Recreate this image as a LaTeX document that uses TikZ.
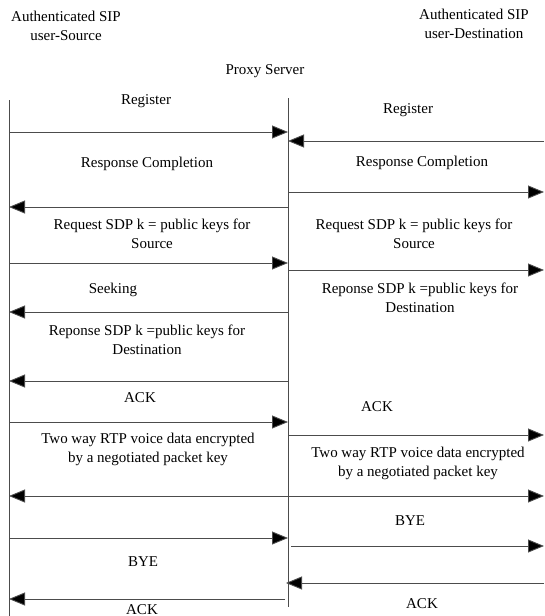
\documentclass[tikz,border=0pt]{standalone}
\usepackage{fontspec}
\setmainfont{Liberation Serif}
\usetikzlibrary{arrows.meta}
\begin{document}
\begin{tikzpicture}[x=1pt,y=-1pt,
  life/.style={draw=black!70,line width=0.9pt},
  tip/.tip={Triangle[length=16pt,width=13pt,fill=black]},
  msg/.style={draw=black!70,line width=0.9pt,-tip},
  dmsg/.style={draw=black!70,line width=0.9pt,tip-tip},
  lbl/.style={font=\fontsize{15}{19}\selectfont,align=center,inner sep=0pt}]
\useasboundingbox (0,0) rectangle (544,616);
% headers
\node[lbl] (src) at (66,26) {Authenticated SIP\\user-Source};
\node[lbl] (dst) at (474,24) {Authenticated SIP\\user-Destination};
\node[lbl] (prx) at (265,71) {Proxy Server};
% lifelines
\coordinate (Ltop) at (9,100);
\coordinate (Lbot) at (9,616);
\coordinate (Mtop) at (288,98);
\coordinate (Mbot) at (288,607);
\draw[life] (Ltop) -- (Lbot);
\draw[life] (Mtop) -- (Mbot);
% labels
\node[lbl] (t1) at (146,101) {Register};
\node[lbl] (t2) at (408,110) {Register};
\node[lbl] (t3) at (147,164) {Response Completion};
\node[lbl] (t4) at (422,163) {Response Completion};
\node[lbl] (t5) at (152,234) {Request SDP k = public keys for\\Source};
\node[lbl] (t6) at (414,234) {Request SDP k = public keys for\\Source};
\node[lbl] (t7) at (113,290) {Seeking};
\node[lbl] (t8) at (420,298) {Reponse SDP k =public keys for\\Destination};
\node[lbl] (t9) at (147,340) {Reponse SDP k =public keys for\\Destination};
\node[lbl] (t10) at (140,398) {ACK};
\node[lbl] (t11) at (377,407) {ACK};
\node[lbl] (t12) at (148,449) {Two way RTP voice data encrypted\\by a negotiated packet key};
\node[lbl] (t13) at (418,463) {Two way RTP voice data encrypted\\by a negotiated packet key};
\node[lbl] (t14) at (410,521) {BYE};
\node[lbl] (t15) at (143,562) {BYE};
\node[lbl] (t16) at (142,610) {ACK};
\node[lbl] (t17) at (422,604) {ACK};
% message end points
\coordinate (a1s) at (9,132);   \coordinate (a1e) at (288,132);
\coordinate (a2s) at (544,141); \coordinate (a2e) at (288,141);
\coordinate (a3s) at (288,207); \coordinate (a3e) at (9,207);
\coordinate (a4s) at (288,192); \coordinate (a4e) at (544,192);
\coordinate (a5s) at (9,263);   \coordinate (a5e) at (288,263);
\coordinate (a6s) at (288,270); \coordinate (a6e) at (544,270);
\coordinate (a7s) at (288,312); \coordinate (a7e) at (9,312);
\coordinate (a8s) at (288,381); \coordinate (a8e) at (9,381);
\coordinate (a9s) at (9,422);   \coordinate (a9e) at (288,422);
\coordinate (a10s) at (288,435); \coordinate (a10e) at (544,435);
\coordinate (a11s) at (9,496);  \coordinate (a11e) at (544,496);
\coordinate (a12s) at (9,538);  \coordinate (a12e) at (288,538);
\coordinate (a13s) at (291,546); \coordinate (a13e) at (544,546);
\coordinate (a14s) at (544,583); \coordinate (a14e) at (286,583);
\coordinate (a15s) at (285,599); \coordinate (a15e) at (9,599);
\draw[msg] (a1s) -- (a1e);
\draw[msg] (a2s) -- (a2e);
\draw[msg] (a3s) -- (a3e);
\draw[msg] (a4s) -- (a4e);
\draw[msg] (a5s) -- (a5e);
\draw[msg] (a6s) -- (a6e);
\draw[msg] (a7s) -- (a7e);
\draw[msg] (a8s) -- (a8e);
\draw[msg] (a9s) -- (a9e);
\draw[msg] (a10s) -- (a10e);
\draw[dmsg] (a11s) -- (a11e);
\draw[msg] (a12s) -- (a12e);
\draw[msg] (a13s) -- (a13e);
\draw[msg] (a14s) -- (a14e);
\draw[msg] (a15s) -- (a15e);
\end{tikzpicture}
\end{document}
